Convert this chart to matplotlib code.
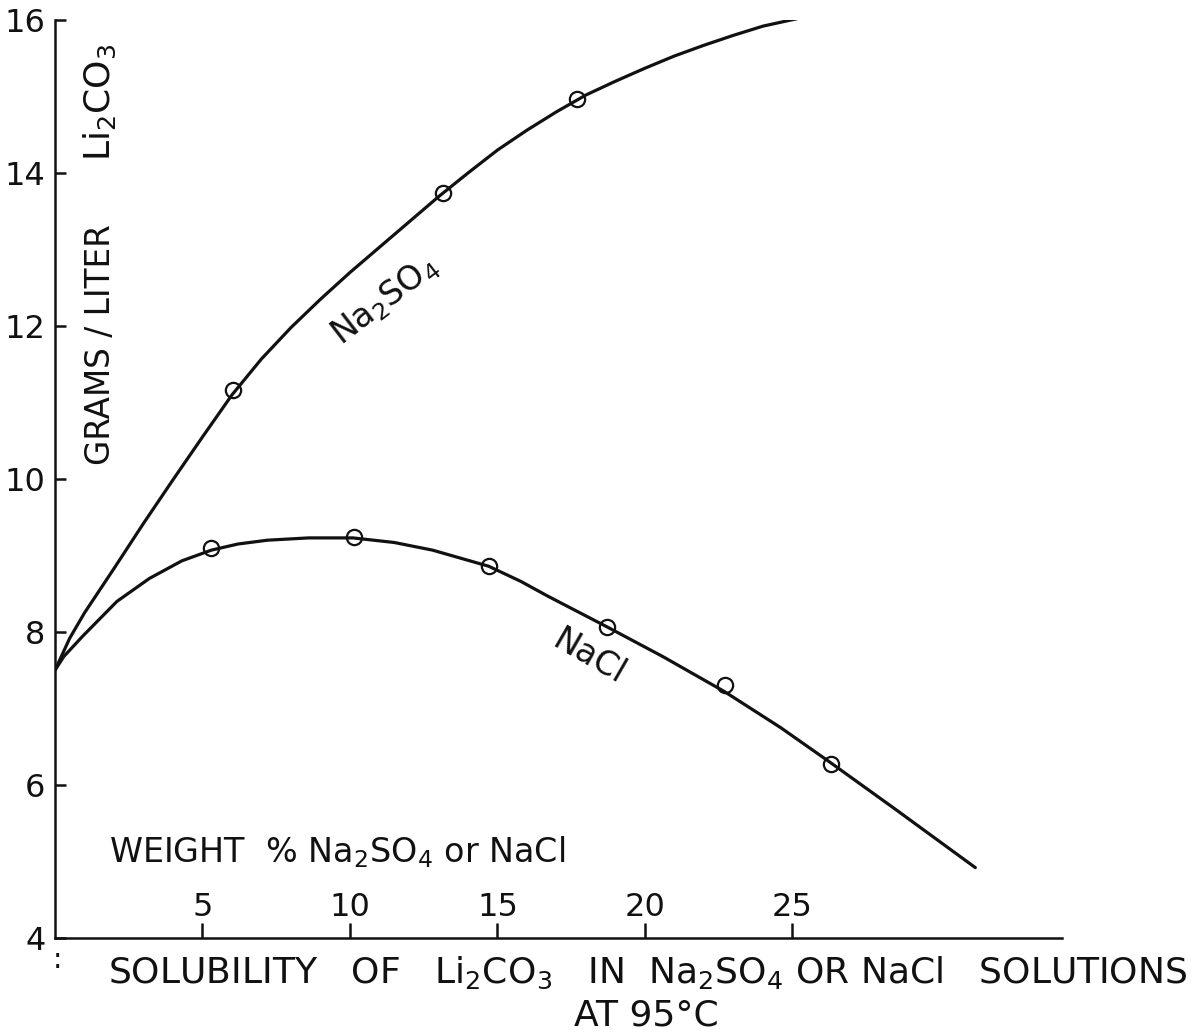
import numpy as np
import matplotlib.pyplot as plt

plt.rcParams['font.family'] = 'DejaVu Sans'
plt.rcParams['mathtext.default'] = 'regular'

ink = '#111111'

# curves as drawn (weight % salt, g/l Li2CO3)
na2so4_x = [0, 0.5, 1, 2, 3, 4, 5, 6, 7, 8, 9, 10, 11, 12, 13, 14, 15, 16, 17, 18, 19,
            20, 21, 22, 23, 24, 25.3]
na2so4_y = [7.5, 7.92, 8.25, 8.83, 9.42, 9.99, 10.55, 11.1, 11.57, 11.98, 12.35, 12.7, 13.03,
            13.36, 13.69, 14.0, 14.3, 14.56, 14.8, 15.02, 15.2, 15.37, 15.53, 15.67, 15.8,
            15.92, 16.03]

nacl_x = [0, 0.3, 0.95, 2.1, 3.2, 4.3, 5.3, 6.2, 7.2, 8.6, 10.1, 11.5, 12.8, 14.7, 15.8,
          16.7, 18.7, 20.6, 22.7, 24.6, 26.3, 28.5, 31.2]
nacl_y = [7.5, 7.68, 7.95, 8.4, 8.7, 8.93, 9.07, 9.15, 9.2, 9.23, 9.23, 9.17, 9.07, 8.86,
          8.66, 8.47, 8.07, 7.68, 7.22, 6.75, 6.29, 5.68, 4.92]

# measured points (circles)
na2so4_pts_x = [6.05, 13.15, 17.7]
na2so4_pts_y = [11.17, 13.74, 14.97]
nacl_pts_x = [5.3, 10.15, 14.7, 18.7, 22.7, 26.3]
nacl_pts_y = [9.1, 9.24, 8.86, 8.07, 7.31, 6.28]

x_ticks = [5, 10, 15, 20, 25]
y_ticks = [4, 6, 8, 10, 12, 14, 16]


fig = plt.figure(figsize=(12.01, 10.32), dpi=100)
ax = fig.add_axes([0.0458, 0.0911, 0.8385, 0.8895])

ax.plot(na2so4_x, na2so4_y, color=ink, lw=2.3, solid_capstyle='round')
ax.plot(nacl_x, nacl_y, color=ink, lw=2.3, solid_capstyle='round')
ax.plot(na2so4_pts_x, na2so4_pts_y, 'o', ms=11, mfc='none', mec=ink, mew=1.6)
ax.plot(nacl_pts_x, nacl_pts_y, 'o', ms=11, mfc='none', mec=ink, mew=1.6)

ax.set_xlim(0, 34.14)
ax.set_ylim(4, 16)
ax.set_xticks(x_ticks)
ax.set_yticks(y_ticks)
ax.set_xticklabels([str(v) for v in x_ticks])
ax.set_yticklabels([str(v) for v in y_ticks])

for s in ['top', 'right']:
    ax.spines[s].set_visible(False)
for s in ['left', 'bottom']:
    ax.spines[s].set_linewidth(1.8)
    ax.spines[s].set_color(ink)

ax.tick_params(axis='y', direction='in', length=8, width=1.8, pad=7,
               labelsize=23, colors=ink)
ax.tick_params(axis='x', direction='in', length=11, width=1.8, pad=-33,
               labelsize=23, colors=ink)

# labels written on the plot
ax.text(1.53, 11.76, 'GRAMS / LITER', rotation=90, ha='center', va='center',
        fontsize=23.5, color=ink)
ax.text(1.53, 14.93, r'Li$_2$CO$_3$', rotation=90, ha='center', va='center',
        fontsize=26, color=ink)
ax.text(11.19, 12.34, r'Na$_2$SO$_4$', rotation=37.5, rotation_mode='anchor',
        ha='center', va='center', fontsize=24, color=ink)
ax.text(18.1, 7.67, 'NaCl', rotation=-30, rotation_mode='anchor',
        ha='center', va='center', fontsize=24, color=ink)
ax.text(1.83, 4.99, r'WEIGHT  % Na$_2$SO$_4$ or NaCl', ha='left', va='baseline',
        fontsize=24, color=ink)

# caption under the axis
ax.text(1.8, 3.41,
        r'SOLUBILITY   OF   Li$_2$CO$_3$   IN  Na$_2$SO$_4$ OR NaCl   SOLUTIONS',
        ha='left', va='baseline', fontsize=26, color=ink)
ax.text(17.6, 2.86, 'AT 95°C', ha='left', va='baseline', fontsize=26, color=ink)
ax.text(0.07, 3.71, ':', ha='center', va='center', fontsize=20, color=ink)

fig.savefig('out.png', dpi=100, facecolor='white')
